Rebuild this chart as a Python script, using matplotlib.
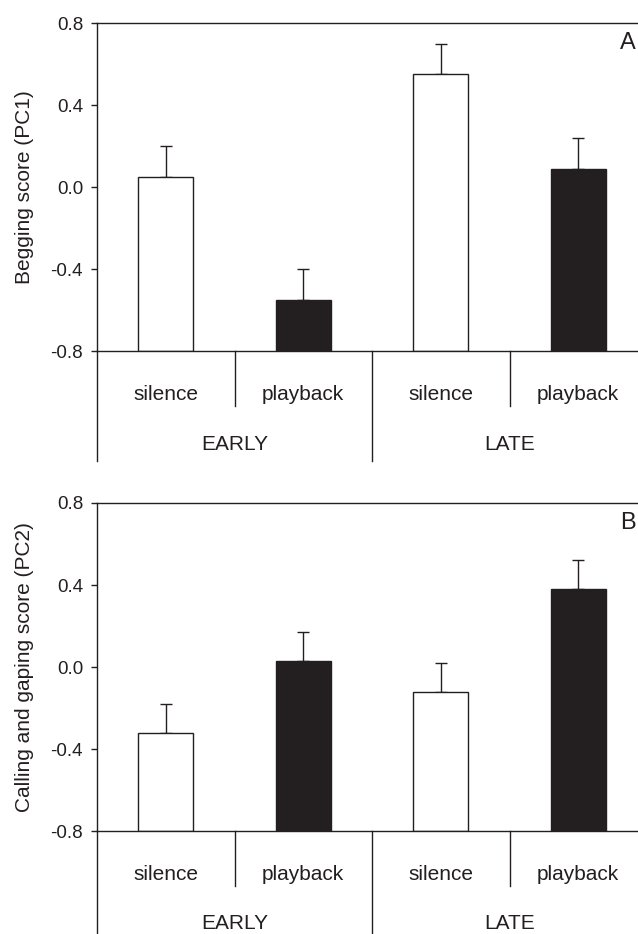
import matplotlib.pyplot as plt
import matplotlib.transforms as mtransforms

plt.rcParams['font.family'] = ['Liberation Sans', 'DejaVu Sans']

# Werte
conditions = ['silence', 'playback', 'silence', 'playback']
periods = ['EARLY', 'LATE']
pc1_mean = [0.05, -0.55, 0.55, 0.09]
pc1_se = [0.15, 0.15, 0.15, 0.15]
pc2_mean = [-0.32, 0.03, -0.12, 0.38]
pc2_se = [0.14, 0.14, 0.14, 0.14]
bar_colors = ['white', '#231f20', 'white', '#231f20']
ylabels = ['Begging score (PC1)', 'Calling and gaping score (PC2)']
panel_tags = ['A', 'B']

ink = '#231f20'
W, H = 638, 934
fig = plt.figure(figsize=(W / 100, H / 100), dpi=100)

# Achsen in Pixeln: links, oben, unten
panels = [(97, 23, 351), (97, 503, 831)]
right_px = 647

for k, (means, errs) in enumerate([(pc1_mean, pc1_se), (pc2_mean, pc2_se)]):
    left, top, bottom = panels[k]
    ax = fig.add_axes([left / W, 1 - bottom / H, (right_px - left) / W, (bottom - top) / H])
    ax.set_xlim(0, 4)
    ax.set_ylim(-0.8, 0.8)
    xs = [i + 0.5 for i in range(len(means))]
    ax.bar(xs, [m + 0.8 for m in means], bottom=-0.8, width=0.4,
           color=bar_colors, edgecolor=ink, linewidth=1.0, zorder=2)
    ax.errorbar(xs, means, yerr=[[0] * len(errs), errs], fmt='none',
                ecolor=ink, elinewidth=1.0, capsize=4, capthick=1.0, zorder=1)

    for s in ['right']:
        ax.spines[s].set_visible(False)
    for s in ['top', 'left', 'bottom']:
        ax.spines[s].set_color(ink)
        ax.spines[s].set_linewidth(1.0)

    ax.set_yticks([-0.8, -0.4, 0.0, 0.4, 0.8])
    ax.set_yticklabels(['-0.8', '-0.4', '0.0', '0.4', '0.8'])
    ax.tick_params(axis='y', direction='out', length=4, width=1.0,
                   color=ink, labelcolor=ink, labelsize=13.5, pad=6)
    ax.set_xticks([])

    ah = bottom - top
    trans = mtransforms.blended_transform_factory(ax.transData, ax.transAxes)
    short = -55 / ah
    long = -110 / ah
    # linke Achse nach unten verlaengert
    ax.plot([0, 0], [0, long], transform=trans, color=ink, lw=1.0, clip_on=False)
    for x in [1, 3]:
        ax.plot([x, x], [0, short], transform=trans, color=ink, lw=1.0, clip_on=False)
    ax.plot([2, 2], [0, long], transform=trans, color=ink, lw=1.0, clip_on=False)

    for x, lab in zip(xs, conditions):
        ax.text(x, -43 / ah, lab, transform=trans, ha='center', va='center',
                fontsize=15, color=ink)
    for i, lab in enumerate(periods):
        ax.text(2 * i + 1, -93 / ah, lab, transform=trans, ha='center', va='center',
                fontsize=15, color=ink)

    ax.text((25 - left) / (right_px - left), 0.5, ylabels[k], transform=ax.transAxes,
            rotation=90, ha='center', va='center', fontsize=15, color=ink)
    ax.text((628 - left) / (right_px - left), 1 - 20 / ah, panel_tags[k],
            transform=ax.transAxes, ha='center', va='center', fontsize=17, color=ink)

fig.savefig('out.png', dpi=100)
